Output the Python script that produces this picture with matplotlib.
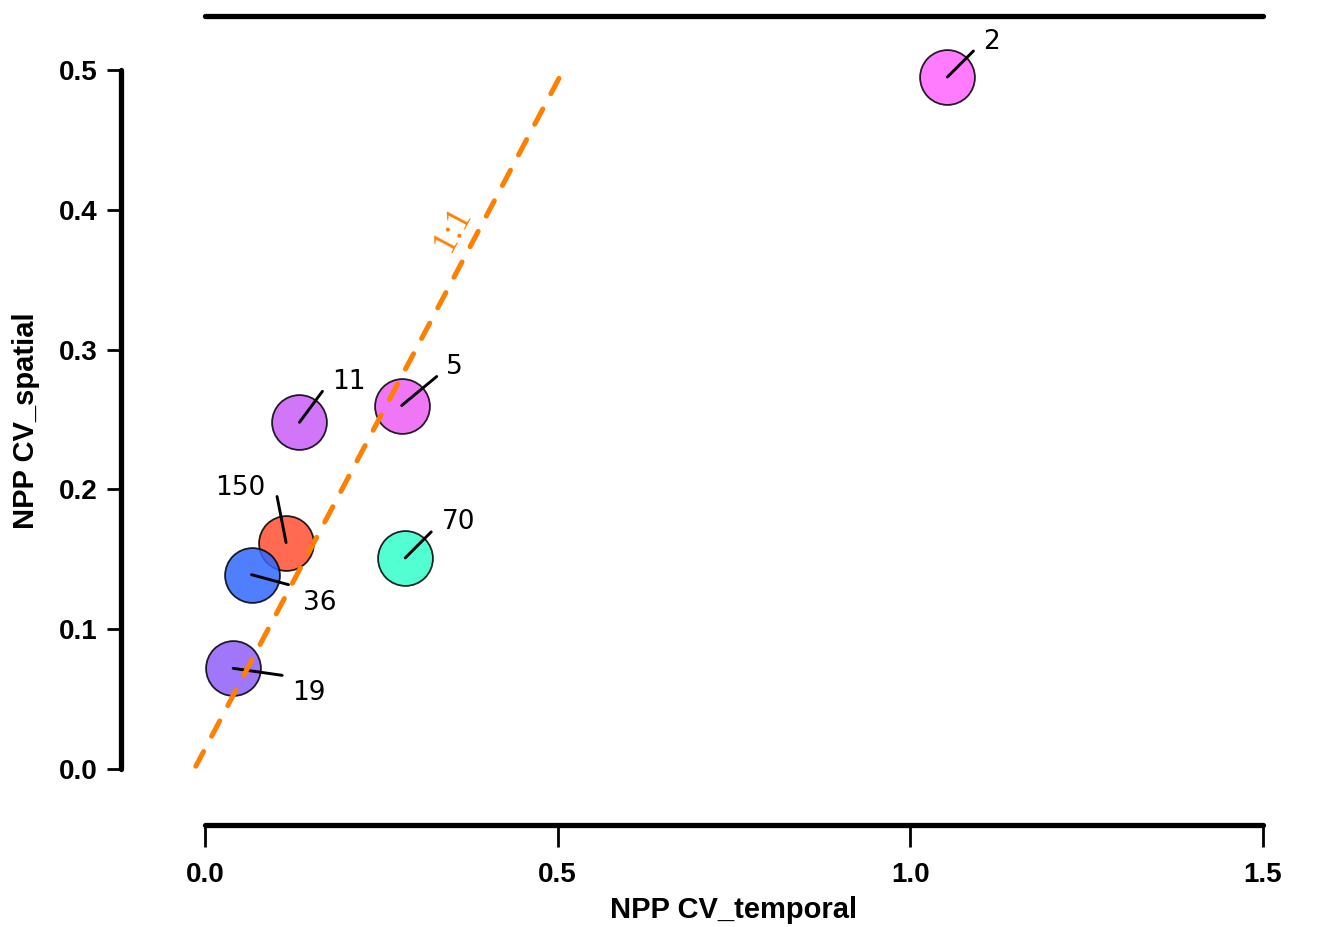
import numpy as np
import matplotlib
matplotlib.use("Agg")
import matplotlib.pyplot as plt

# data
labels = ["2", "5", "11", "150", "36", "70", "19"]
cv_temporal = [1.053, 0.279, 0.134, 0.115, 0.066, 0.284, 0.040]
cv_spatial = [0.495, 0.260, 0.248, 0.162, 0.139, 0.151, 0.072]
colors = ["#FF64FF", "#ED5FF5", "#C95DF8", "#FF5031", "#3069FF", "#33FFCC", "#915FF9"]

# 1:1 reference line, drawn from the top end down
ref_x = [0.502, -0.013]
ref_y = [0.494, 0.002]

x_ticks = [0.0, 0.5, 1.0, 1.5]
y_ticks = [0.0, 0.1, 0.2, 0.3, 0.4, 0.5]

# label placement (pixel offsets: leader end, text centre)
line_off = {"2": (26, 26), "5": (35, 29), "11": (23, 31), "150": (-9, 46),
            "36": (37, -10), "70": (26, 26), "19": (49, -7)}
text_off = {"2": (44, 35), "5": (53, 39), "11": (49, 40), "150": (-46, 55),
            "36": (68, -28), "70": (53, 36), "19": (76, -25)}

dpi = 100
fig = plt.figure(figsize=(13.4, 9.27), dpi=dpi)
ax = fig.add_axes([121/1340, 102.5/927, 1179/1340, 808.2/927])
ax.set_xlim(-0.1191, 1.553)
ax.set_ylim(-0.0397, 0.5384)

px = 72.0/dpi
for lab, x, y, c in zip(labels, cv_temporal, cv_spatial, colors):
    ax.scatter(x, y, s=1560, color=c, edgecolor="black", linewidth=1.3, alpha=0.85, zorder=3)
    lx, ly = line_off[lab]
    ax.annotate("", xy=(x, y), xytext=(lx*px, ly*px), textcoords="offset points",
                arrowprops=dict(arrowstyle="-", lw=2.1, color="black", shrinkA=0, shrinkB=0),
                zorder=4)
    tx, ty = text_off[lab]
    ax.annotate(lab, xy=(x, y), xytext=(tx*px, ty*px), textcoords="offset points",
                ha="center", va="center", fontsize=19, family="DejaVu Sans", zorder=5)

ln, = ax.plot(ref_x, ref_y, color="#FF8000", lw=3.6, zorder=6, solid_capstyle="round")
ln.set_dashes((3.46, 3.46))
ln.set_dash_capstyle("round")
ax.text(0.352, 0.386, "1:1", rotation=62, rotation_mode="anchor", ha="center", va="center",
        color="#FF8000", fontsize=25, family="Liberation Serif", zorder=6)

ax.spines["right"].set_visible(False)
ax.spines["left"].set_bounds(0, 0.5)
ax.spines["bottom"].set_bounds(0, 1.5)
ax.spines["top"].set_bounds(0, 1.5)
for side in ["left", "bottom", "top"]:
    ax.spines[side].set_linewidth(3.8)
    ax.spines[side].set_capstyle("round")

ax.set_xticks(x_ticks)
ax.set_xticklabels(["%.1f" % v for v in x_ticks])
ax.set_yticks(y_ticks)
ax.set_yticklabels(["%.1f" % v for v in y_ticks])
ax.tick_params(axis="x", direction="out", length=16, width=2, pad=11, top=False)
ax.tick_params(axis="y", direction="out", length=10, width=2, pad=7)
for t in ax.get_xticklabels() + ax.get_yticklabels():
    t.set_fontsize(20)
    t.set_fontweight("bold")
    t.set_family("Liberation Sans")

ax.set_xlabel("NPP CV_temporal", fontsize=21, fontweight="bold", family="Liberation Sans")
ax.set_ylabel("NPP CV_spatial", fontsize=21, fontweight="bold", family="Liberation Sans")
ax.xaxis.set_label_coords((734-121)/1179, -0.0885)
ax.yaxis.set_label_coords(-0.0687, 0.5)

fig.savefig("out.png", dpi=dpi)
